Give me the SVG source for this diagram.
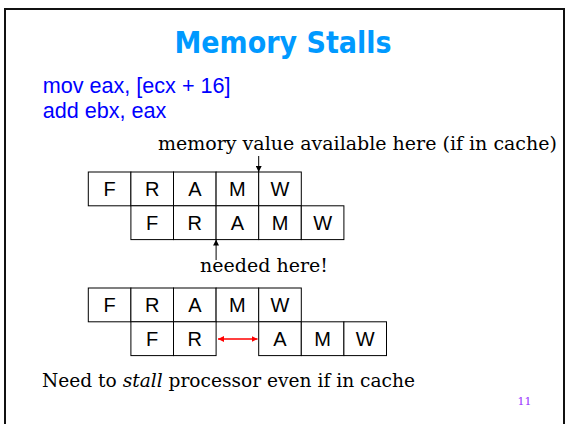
<svg xmlns="http://www.w3.org/2000/svg" width="565" height="424" viewBox="0 0 565 424">
<style>
.cell{fill:#fff;stroke:#000;stroke-width:1}
.lt{font-family:"Liberation Sans",Arial,sans-serif;font-size:20px;fill:#000;text-anchor:middle}
.code{font-family:"Liberation Sans",Arial,sans-serif;font-size:21.6px;fill:#0000ff}
.serif{font-family:"DejaVu Serif","Liberation Serif",serif;font-size:19px;fill:#000}
.conn{stroke:#000;stroke-width:1;fill:none}
</style>
<defs>
<marker id="ah" viewBox="0 0 10 10" refX="10" refY="5" markerWidth="6" markerHeight="6" markerUnits="userSpaceOnUse" orient="auto"><path d="M0,0 L10,5 L0,10 z" fill="#000"/></marker>
<marker id="ahr" viewBox="0 0 10 10" refX="10" refY="5" markerWidth="6" markerHeight="6" markerUnits="userSpaceOnUse" orient="auto-start-reverse"><path d="M0,0 L10,5 L0,10 z" fill="#f00"/></marker>
</defs>
<rect x="0" y="0" width="565" height="424" fill="#fff"/>
<rect x="5" y="9" width="559" height="440" fill="none" stroke="#111" stroke-width="2"/>

<g id="title"><text x="283" y="53.3" text-anchor="middle" font-family="DejaVu Sans,sans-serif" font-weight="bold" font-size="30" fill="#0099ff" textLength="217" lengthAdjust="spacingAndGlyphs">Memory Stalls</text></g>

<g id="code">
<text class="code" x="42.7" y="92.7">mov eax, [ecx + 16]</text>
<text class="code" x="42.7" y="118.3">add ebx, eax</text>
</g>

<g id="label-available"><text class="serif" x="158" y="150">memory value available here (if in cache)</text></g>

<g id="pipe1">
<rect class="cell" x="88.3" y="172" width="42.6" height="33.8"/>
<rect class="cell" x="130.9" y="172" width="42.6" height="33.8"/>
<rect class="cell" x="173.5" y="172" width="42.6" height="33.8"/>
<rect class="cell" x="216.1" y="172" width="42.6" height="33.8"/>
<rect class="cell" x="258.7" y="172" width="42.6" height="33.8"/>
<text class="lt" x="109.6" y="196">F</text>
<text class="lt" x="152.2" y="196">R</text>
<text class="lt" x="194.8" y="196">A</text>
<text class="lt" x="237.4" y="196">M</text>
<text class="lt" x="280" y="196">W</text>
</g>

<g id="pipe2">
<rect class="cell" x="130.9" y="205.8" width="42.6" height="33.8"/>
<rect class="cell" x="173.5" y="205.8" width="42.6" height="33.8"/>
<rect class="cell" x="216.1" y="205.8" width="42.6" height="33.8"/>
<rect class="cell" x="258.7" y="205.8" width="42.6" height="33.8"/>
<rect class="cell" x="301.3" y="205.8" width="42.6" height="33.8"/>
<text class="lt" x="152.2" y="229.8">F</text>
<text class="lt" x="194.8" y="229.8">R</text>
<text class="lt" x="237.4" y="229.8">A</text>
<text class="lt" x="280" y="229.8">M</text>
<text class="lt" x="322.6" y="229.8">W</text>
</g>

<g id="label-needed"><text class="serif" x="264" y="272" text-anchor="middle">needed here!</text></g>

<g id="pipe3">
<rect class="cell" x="88.3" y="288" width="42.6" height="33.8"/>
<rect class="cell" x="130.9" y="288" width="42.6" height="33.8"/>
<rect class="cell" x="173.5" y="288" width="42.6" height="33.8"/>
<rect class="cell" x="216.1" y="288" width="42.6" height="33.8"/>
<rect class="cell" x="258.7" y="288" width="42.6" height="33.8"/>
<text class="lt" x="109.6" y="312">F</text>
<text class="lt" x="152.2" y="312">R</text>
<text class="lt" x="194.8" y="312">A</text>
<text class="lt" x="237.4" y="312">M</text>
<text class="lt" x="280" y="312">W</text>
</g>

<g id="pipe4">
<rect class="cell" x="130.9" y="321.8" width="42.6" height="33.8"/>
<rect class="cell" x="173.5" y="321.8" width="42.6" height="33.8"/>
<rect class="cell" x="258.7" y="321.8" width="42.6" height="33.8"/>
<rect class="cell" x="301.3" y="321.8" width="42.6" height="33.8"/>
<rect class="cell" x="343.9" y="321.8" width="42.6" height="33.8"/>
<text class="lt" x="152.2" y="345.8">F</text>
<text class="lt" x="194.8" y="345.8">R</text>
<text class="lt" x="280" y="345.8">A</text>
<text class="lt" x="322.6" y="345.8">M</text>
<text class="lt" x="365.2" y="345.8">W</text>
</g>

<g id="connectors">
<line class="conn" x1="258.7" y1="156" x2="258.7" y2="172" marker-end="url(#ah)"/>
<line class="conn" x1="216.1" y1="260" x2="216.1" y2="239.6" marker-end="url(#ah)"/>
<line x1="218" y1="339" x2="257.5" y2="339" stroke="#f00" stroke-width="1.3" marker-start="url(#ahr)" marker-end="url(#ahr)"/>
</g>

<g id="label-stall"><text class="serif" x="42" y="386.7" style="font-size:18.6px">Need to <tspan font-style="italic">stall</tspan> processor even if in cache</text></g>

<g id="page"><text x="517.5" y="405" font-family="DejaVu Serif,serif" font-size="11" fill="#9933ff">11</text></g>
</svg>
